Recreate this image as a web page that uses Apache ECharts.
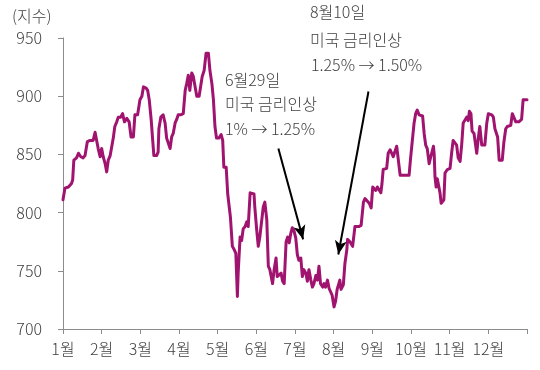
<!DOCTYPE html>
<html>
<head>
<meta charset="utf-8">
<script src="https://cdn.jsdelivr.net/npm/echarts@6/dist/echarts.min.js"></script>
<style>
html,body{margin:0;padding:0;background:#fff;}
#chart{width:540px;height:370px;}
</style>
</head>
<body>
<div id="chart"></div>
<script>
// Month labels (ticks at the start of each month)
var monthLabels = ['1월','2월','3월','4월','5월','6월','7월','8월','9월','10월','11월','12월'];
// Y axis ticks
var yTicks = [700, 750, 800, 850, 900, 950];

// Time position (months since 1 Jan) and index value
var months = [
  0,0.05,0.14,0.22,0.25,0.28,0.35,0.40,0.46,0.52,0.57,0.63,0.70,0.78,0.83,0.87,0.91,0.96,1.00,1.04,
  1.09,1.13,1.17,1.22,1.26,1.30,1.34,1.39,1.43,1.49,1.54,1.59,1.65,1.71,1.76,1.82,1.86,1.93,1.97,1.99,
  2.04,2.08,2.15,2.19,2.23,2.28,2.32,2.35,2.42,2.46,2.48,
  2.53,2.59,2.64,2.68,2.72,2.77,2.81,2.85,2.90,2.94,2.98,3.04,3.11,3.16,3.20,3.24,3.28,3.33,3.37,3.41,
  3.46,3.52,3.57,3.60,3.65,3.70,3.76,3.80,3.85,3.89,3.93,3.97,4.03,4.09,4.13,4.16,4.22,4.26,4.30,4.33,
  4.38,4.43,4.47,4.51,4.53,4.58,4.62,4.66,4.71,4.75,4.79,4.84,4.88,4.94,
  4.96,5.01,5.05,5.09,5.14,5.18,5.22,5.27,5.31,5.35,5.40,5.42,5.46,5.51,5.54,5.59,5.64,5.68,5.72,5.77,
  5.81,5.85,5.89,5.93,5.97,6.02,6.06,6.10,6.15,6.19,6.23,6.28,6.32,6.36,6.41,6.45,6.49,6.54,6.58,6.62,
  6.66,6.72,6.75,6.79,6.84,6.88,6.92,6.96,7.01,7.05,7.09,7.14,7.16,7.19,7.25,7.29,7.34,
  7.36,7.42,7.49,7.55,7.60,7.65,7.71,7.74,7.77,7.81,7.85,7.92,7.97,8.01,8.05,8.09,8.13,8.17,8.22,8.25,
  8.28,8.33,8.37,8.41,8.46,8.50,8.54,8.59,8.63,8.67,8.72,8.76,8.82,8.89,8.95,8.99,9.03,9.08,9.12,9.16,
  9.21,9.26,9.30,9.34,9.38,9.42,9.47,
  9.49,9.54,9.58,9.60,9.62,9.65,9.68,9.72,9.75,9.78,9.81,9.85,9.88,9.94,9.98,10.01,10.05,10.09,10.14,10.18,
  10.22,10.27,10.31,10.35,10.39,10.44,10.48,10.51,10.55,10.58,10.63,10.67,10.70,10.74,10.78,10.83,10.87,10.91,10.96,11.00,
  11.04,11.09,11.13,11.17,11.22,11.24,11.28,11.32,11.36,11.40,11.45,11.49,11.53,11.58,11.62,11.66,11.71,11.75,11.79,11.82,
  11.86,11.90,11.95,12.00
];
var kospi = [
  811,821,822,825,828,845,847,851,848,847,849,861,862,862,869,862,855,848,855,848,
  842,835,845,849,850,864,874,878,882,882,885,878,881,878,865,865,884,884,885,897,
  900,908,907,905,897,880,862,849,849,852,872,
  882,884,877,864,865,855,865,868,877,880,884,884,885,905,911,918,905,920,917,916,
  900,900,900,917,922,937,937,922,911,897,874,864,864,867,862,839,839,816,816,796,
  771,768,765,728,748,779,776,786,788,792,788,817,817,816,
  805,785,771,779,780,805,809,794,754,751,752,739,751,761,745,744,748,741,739,775,
  779,774,782,787,785,778,764,759,761,745,751,748,741,751,742,736,739,746,742,754,
  739,736,739,736,742,735,736,729,719,724,734,734,742,734,738,756,768,
  777,775,771,788,789,788,789,789,809,812,811,808,804,822,823,819,822,822,817,825,
  837,838,838,851,854,855,848,848,857,857,832,831,832,832,832,847,847,877,885,888,
  884,883,883,868,858,855,842,
  845,844,857,850,831,822,829,828,817,808,808,811,834,837,837,838,851,862,861,858,
  847,844,858,877,878,882,879,887,885,870,868,867,851,864,874,858,858,858,877,885,
  884,884,882,872,871,865,845,845,845,860,872,874,875,875,885,884,878,879,878,879,
  880,897,897,897
];

// Annotation arrows (start -> tip) in data units
var arrow1 = [[5.57, 855], [6.21, 777]];
var arrow2 = [[7.90, 904], [7.12, 764]];

var FONT = "'Noto Sans CJK KR', 'Noto Sans', sans-serif";
var TXT = '#404040';
var FONTSPEC = '300 16px ' + FONT;

var seriesData = months.map(function (t, i) { return [t, kospi[i]]; });

var chart = echarts.init(document.getElementById('chart'), null, {renderer: 'canvas'});
chart.setOption({
  animation: false,
  backgroundColor: '#ffffff',
  grid: {left: 63, right: 13, top: 38, bottom: 41, containLabel: false},
  xAxis: {
    type: 'value', min: 0, max: 12, interval: 1,
    axisLine: {show: true, lineStyle: {color: '#8c8c8c', width: 1}},
    axisTick: {show: true, inside: false, length: 5, lineStyle: {color: '#8c8c8c'}},
    splitLine: {show: false},
    axisLabel: {
      margin: 12, color: TXT, fontSize: 16, fontWeight: 300, fontFamily: FONT,
      formatter: function (v) { return v < 12 ? monthLabels[v] : ''; }
    }
  },
  yAxis: {
    type: 'value', min: yTicks[0], max: yTicks[yTicks.length - 1], interval: 50,
    axisLine: {show: true, lineStyle: {color: '#8c8c8c', width: 1}},
    axisTick: {show: true, inside: false, length: 5, lineStyle: {color: '#8c8c8c'}},
    splitLine: {show: false},
    axisLabel: {margin: 21, color: TXT, fontSize: 16, fontWeight: 300, fontFamily: FONT}
  },
  series: [{
    type: 'line',
    data: seriesData,
    showSymbol: false,
    symbol: 'none',
    lineStyle: {color: '#a0136f', width: 3, join: 'round', cap: 'round'},
    markLine: {
      silent: true,
      symbol: ['none', 'arrow'],
      symbolSize: [9, 14],
      label: {show: false},
      lineStyle: {color: '#000000', width: 2, type: 'solid'},
      data: [
        [{coord: arrow1[0]}, {coord: arrow1[1]}],
        [{coord: arrow2[0]}, {coord: arrow2[1]}]
      ]
    }
  }],
  graphic: [
    {type: 'text', x: 12, y: 16, style: {text: '(지수)', fill: TXT, font: FONTSPEC, verticalAlign: 'middle'}},
    {type: 'text', x: 310, y: 12, style: {text: '8월10일', fill: TXT, font: FONTSPEC, verticalAlign: 'middle'}},
    {type: 'text', x: 310, y: 40, style: {text: '미국 금리인상', fill: TXT, font: FONTSPEC, verticalAlign: 'middle'}},
    {type: 'text', x: 311, y: 65, style: {text: '1.25% → 1.50%', fill: TXT, font: FONTSPEC, verticalAlign: 'middle'}},
    {type: 'text', x: 225, y: 80, style: {text: '6월29일', fill: TXT, font: FONTSPEC, verticalAlign: 'middle'}},
    {type: 'text', x: 225, y: 104, style: {text: '미국 금리인상', fill: TXT, font: FONTSPEC, verticalAlign: 'middle'}},
    {type: 'text', x: 225, y: 129, style: {text: '1% → 1.25%', fill: TXT, font: FONTSPEC, verticalAlign: 'middle'}}
  ]
});
</script>
</body>
</html>
